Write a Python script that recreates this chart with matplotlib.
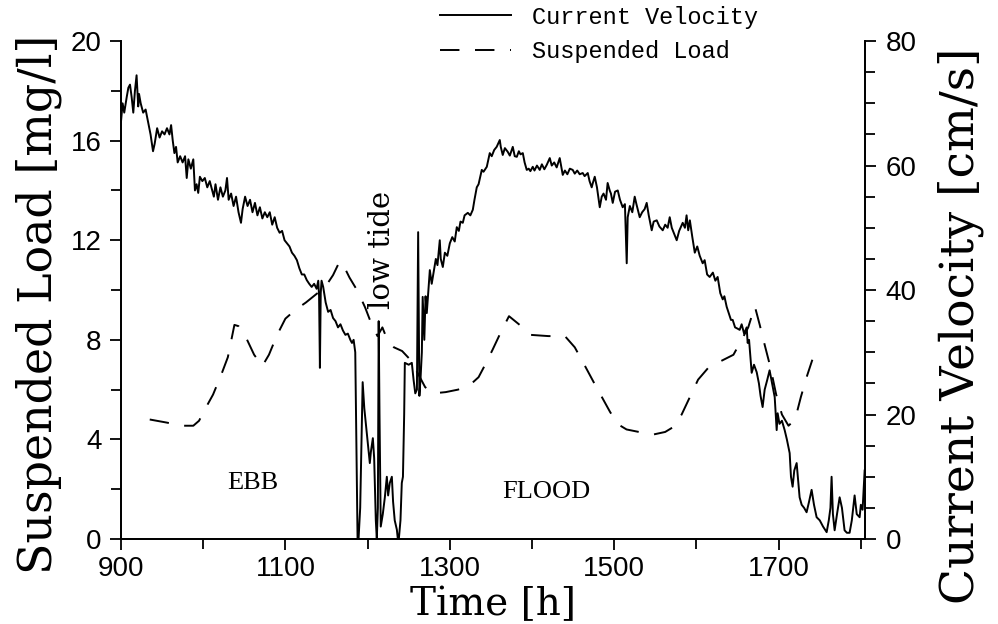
import matplotlib
matplotlib.use("Agg")
import matplotlib.pyplot as plt
from matplotlib.lines import Line2D
from matplotlib.ticker import MultipleLocator

# ---------------- data ----------------
vel_time = [
    900, 902, 904, 907, 909, 911, 913, 915, 917, 919, 921, 922, 924, 927, 930, 933, 936, 939, 941, 944,
    947, 950, 953, 956, 959, 961, 963, 965, 967, 969, 972, 975, 978, 980, 982, 985, 988, 990, 992, 994,
    996, 999, 1002, 1005, 1008, 1011, 1013, 1015, 1018, 1021, 1024, 1027, 1029, 1031, 1034, 1037, 1040,
    1043, 1046, 1048, 1051, 1054, 1057, 1060, 1063, 1066, 1069, 1072, 1075, 1078, 1081, 1084, 1087, 1090,
    1093, 1096, 1099, 1102, 1105, 1108, 1111, 1114, 1117, 1120, 1123, 1126, 1129, 1132, 1135, 1138, 1140,
    1141, 1142, 1143, 1144, 1146, 1149, 1152, 1155, 1158, 1161, 1164, 1167, 1170, 1173, 1176, 1179, 1181,
    1183, 1185, 1187.8, 1189, 1191, 1194, 1196, 1199, 1202.7, 1204, 1206.4, 1208, 1210, 1211.2, 1212.5,
    1213.5, 1214.5, 1216, 1218.5, 1221, 1223.4, 1225, 1227, 1229.5, 1231, 1233, 1235.6, 1236.8, 1238,
    1240, 1241.6, 1243, 1244.5, 1245.3, 1250, 1253.8, 1256, 1258, 1260, 1261.5, 1263, 1264.5, 1266, 1267,
    1269, 1270.5, 1272, 1275.7, 1278, 1280, 1283, 1285, 1287.8, 1289, 1291.5, 1294, 1297, 1300, 1303,
    1306, 1308.5, 1311, 1313, 1315.8, 1318, 1321.9, 1325, 1328, 1330, 1332.8, 1335, 1338.9, 1341, 1345,
    1347, 1348.6, 1351, 1354, 1357, 1360.8, 1362, 1364.4, 1367, 1370.5, 1373, 1376.6, 1379, 1381.5, 1384,
    1386, 1388.8, 1391, 1393.6, 1396, 1398, 1400.9, 1403, 1406, 1409.4, 1412, 1415, 1417.9, 1421.6, 1424,
    1427, 1430, 1433.7, 1437.4, 1440, 1443, 1446, 1449.5, 1452, 1455, 1458, 1461.7, 1464, 1467.8, 1470,
    1472.6, 1474, 1476.3, 1479, 1482.4, 1484.8, 1487, 1490, 1492, 1494.5, 1496, 1498.2, 1501, 1504.3,
    1507, 1510.3, 1513, 1515.2, 1516.4, 1519, 1522, 1524.9, 1527, 1531, 1534, 1537, 1539.5, 1542, 1545.6,
    1548, 1551.7, 1555, 1559, 1562, 1565, 1567.5, 1570, 1573, 1576, 1579, 1583.3, 1586, 1588, 1590, 1592,
    1595, 1598, 1601, 1604, 1607.6, 1610, 1613, 1616.1, 1620, 1623, 1625.8, 1629, 1632, 1634, 1636.8,
    1640, 1642, 1644.1, 1647, 1650, 1652.6, 1655, 1658, 1661.1, 1662.3, 1664, 1667.2, 1670, 1673.3, 1676,
    1678, 1680.5, 1683, 1686, 1689, 1692, 1695.2, 1697.6, 1698.8, 1701, 1704, 1707.3, 1710, 1713.4, 1715,
    1717, 1719, 1721.9, 1724, 1725.5, 1728, 1731, 1734, 1737, 1740.1, 1743, 1746.2, 1750, 1754, 1758.4,
    1761, 1763, 1764.4, 1766, 1768.1, 1771, 1774.2, 1777, 1780.2, 1783, 1786.3, 1789, 1792.4, 1795,
    1798.5, 1800, 1802.1, 1804.6,
]
vel_value = [
    67, 70, 68.5, 71, 72.5, 73, 71, 68.5, 72, 74.5, 69.5, 71.5, 70, 68.5, 69, 67, 65, 62.3, 63.5, 66,
    64.5, 65.5, 65, 66, 65, 66.5, 64, 62, 63, 60.5, 61.5, 60.5, 61.5, 58, 61, 59.5, 61, 56, 57, 55.6,
    58.2, 57.5, 58, 56.5, 57.5, 56, 55, 57, 54.5, 56.5, 55, 56, 58, 54.5, 55.5, 53.5, 55,
    52.5, 50.8, 53, 55, 53.5, 54.5, 52.5, 54, 52, 53.3, 51.5, 52.5, 51.7, 52.5, 50.5, 51.7, 50,
    49.2, 49.5, 48, 47.5, 47, 46, 45.5, 44.8, 43.5, 42.5, 42.5, 41.6, 41, 40.5, 41, 40.2, 41.5,
    39, 27.5, 39.5, 41.5, 40.5, 38, 36.5, 36.8, 35.5, 35, 34, 34.5, 33.5, 32.8, 33, 32, 31.5,
    32, 30, 0, 0, 5, 25.2, 21, 17, 12.2, 14, 16.2, 13, 3, 0, 5,
    35, 20, 2, 4, 6.7, 10, 7, 9, 10, 6, 3, 1.5, 0, 0,
    3, 9, 10, 20, 28.3, 28, 28.3, 25.5, 23.4, 24, 49.3, 23, 26, 30, 38.9,
    32, 39, 36.3, 43.2, 41, 42.6, 45, 44, 48, 45, 43.7, 46, 45.5, 47.5, 48.5,
    47.8, 50.1, 49.5, 51, 50.8, 52, 52.4, 52, 52.9, 54.5, 56.5, 57, 59.3, 59, 59.8,
    61, 62, 61.5, 62.5, 63, 64.1, 63, 61.7, 62.8, 62.2, 61.6, 63, 61.5, 61.4, 62.3,
    61.8, 62, 60.5, 59.3, 59.5, 59.1, 59.8, 59.2, 60, 59.3, 60.2, 59.4, 60.1, 61.2, 60,
    60.5, 59.7, 61.2, 58.5, 59.2, 58.6, 59.5, 59.3, 58.7, 59.2, 58.6, 58.8, 58.3, 58.8, 57.5,
    56.5, 57.2, 58.2, 56.5, 53.3, 55, 55.5, 54.5, 57.2, 56, 55.5, 54, 55.8, 56,
    54.5, 53.3, 53.8, 44.3, 51.7, 53.5, 52.5, 55, 53.8, 51.7, 52.5, 53, 54, 52, 49.6,
    51, 51.2, 50.2, 49.6, 50.5, 50, 51.7, 50, 49, 48, 49.5, 50.8, 50, 52, 49.6, 51.2,
    48.5, 46, 47, 45.5, 44.3, 44.8, 42.5, 42.1, 42.8, 41.5, 42.1, 39.5, 38.5, 39, 37.3,
    36, 35.2, 35.2, 34, 33.8, 33.6, 34.5, 33, 34, 31.5, 32, 26.7, 28, 26.8, 25,
    23, 21.2, 24, 25.5, 27.1, 25, 22.8, 17.5, 20.2, 18.5, 19, 17.5, 16, 13.8, 10,
    8.4, 11, 12.2, 9, 6.7, 5.5, 5, 4.3, 6, 7.9, 5.5, 3.5, 3, 2, 1.1,
    3, 5, 10, 4, 1.4, 4, 6.7, 5, 1.4, 1, 1, 3, 7, 4,
    3.5, 5.5, 4.7, 11,
]

load_time = [
    935, 955, 975, 988, 995, 1002, 1012, 1022, 1030, 1038, 1043, 1052, 1062, 1072, 1080, 1090, 1100,
    1112, 1125, 1140, 1150, 1158, 1166, 1172, 1178, 1188, 1197, 1204, 1212, 1218, 1224, 1232, 1242,
    1252, 1262, 1270, 1280, 1295, 1310, 1325, 1335, 1343, 1352, 1362, 1372, 1385, 1398, 1420, 1440,
    1452, 1462, 1475, 1485, 1495, 1505, 1515, 1530, 1548, 1562, 1572, 1582, 1592, 1602, 1615, 1630,
    1645, 1655, 1663, 1671, 1677, 1683, 1690, 1697, 1704, 1712, 1720, 1727, 1734, 1741,
]
load_value = [
    4.8, 4.68, 4.55, 4.55, 4.75, 5.2, 5.8, 6.6, 7.3, 8.6, 8.55, 8.1, 7.4, 6.95, 7.4, 8.2, 8.85,
    9.2, 9.5, 9.9, 10.2, 10.6, 11.15, 10.9, 10.5, 9.95, 9.3, 8.7, 8.15, 8.5, 8.0, 7.7, 7.55,
    7.2, 6.6, 6.1, 5.85, 5.9, 6.0, 6.2, 6.5, 7.0, 7.6, 8.3, 8.95, 8.6, 8.2, 8.15, 8.15,
    7.7, 7.1, 6.3, 5.7, 5.1, 4.6, 4.4, 4.3, 4.2, 4.3, 4.5, 5.0, 5.7, 6.4, 6.9, 7.15,
    7.4, 8.0, 8.5, 9.35, 8.6, 7.8, 6.9, 5.8, 5.0, 4.55, 4.8, 5.7, 6.5, 7.2,
]

x_ticks = [900, 1100, 1300, 1500, 1700]
left_ticks = [0, 4, 8, 12, 16, 20]
right_ticks = [0, 20, 40, 60, 80]

# ---------------- figure ----------------
fig = plt.figure(figsize=(9.98, 6.24), dpi=100)
ax = fig.add_axes([0.1212, 0.1362, 0.7455, 0.7980])
ax2 = ax.twinx()

tick_font = "Liberation Sans"
label_font = "DejaVu Serif"

ax.plot(load_time, load_value, color="black", lw=1.4, dashes=(10, 8))
ax2.plot(vel_time, vel_value, color="black", lw=1.4)

ax.set_xlim(900, 1805)
ax.set_ylim(0, 20)
ax2.set_ylim(0, 80)

ax.set_xticks(x_ticks)
ax.xaxis.set_minor_locator(MultipleLocator(100))
ax.set_yticks(left_ticks)
ax.yaxis.set_minor_locator(MultipleLocator(2))
ax2.set_yticks(right_ticks)
ax2.yaxis.set_minor_locator(MultipleLocator(5))

for a in (ax, ax2):
    a.spines["top"].set_visible(False)
    for s in a.spines.values():
        s.set_linewidth(1.3)
ax.tick_params(axis="both", which="major", direction="out", length=8, width=1.3,
               labelsize=20, pad=6)
ax.tick_params(axis="x", which="major", pad=4)
ax.tick_params(axis="both", which="minor", direction="out", length=7, width=1.3)
ax2.tick_params(axis="y", which="major", direction="out", length=8, width=1.3,
                labelsize=20, pad=7)
ax2.tick_params(axis="y", which="minor", direction="out", length=7, width=1.3)
for lab in ax.get_xticklabels() + ax.get_yticklabels() + ax2.get_yticklabels():
    lab.set_fontfamily(tick_font)

ax.set_xlabel("Time [h]", fontsize=28, family=label_font)
ax.set_ylabel("Suspended Load [mg/l]", fontsize=33, family=label_font)
ax2.set_ylabel("Current Velocity [cm/s]", fontsize=34, family=label_font)
ax.xaxis.set_label_coords(0.5, -0.094)
ax.yaxis.set_label_coords(-0.079, 0.472)
ax2.yaxis.set_label_coords(1.098, 0.428)

ax.text(1060, 2.25, "EBB", fontsize=19, family="Liberation Serif", ha="center", va="center")
ax.text(1417, 1.9, "FLOOD", fontsize=19, family="Liberation Serif", ha="center", va="center")
ax.text(1217, 11.6, "low tide", fontsize=21, family=label_font, rotation=90,
        ha="center", va="center")

handles = [Line2D([], [], color="black", lw=1.4),
           Line2D([], [], color="black", lw=1.4, dashes=(10, 8))]
fig.legend(handles, ["Current Velocity", "Suspended Load"], loc="upper left",
           bbox_to_anchor=(0.420, 1.025), frameon=False,
           prop={"family": "Liberation Mono", "size": 17},
           handlelength=3.0, handletextpad=0.9, labelspacing=0.5)

fig.savefig("out.png", dpi=100)
